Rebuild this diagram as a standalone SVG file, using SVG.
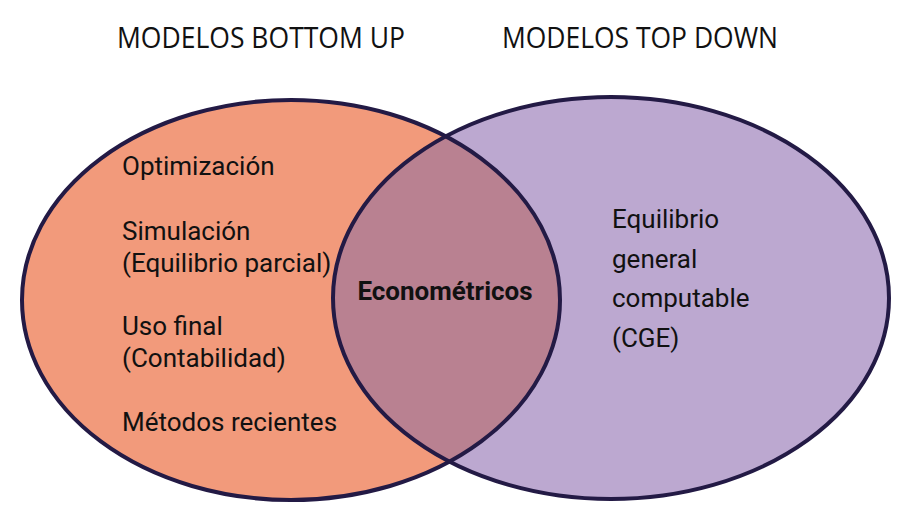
<svg xmlns="http://www.w3.org/2000/svg" width="900" height="526" viewBox="0 0 900 526">
<style>
.t{font-family:"Open Sans","Liberation Sans",sans-serif;font-size:29px;fill:#111}
.b{font-family:Roboto,"Liberation Sans",sans-serif;font-size:26px;fill:#111}
.e{stroke:#231A45;stroke-width:4}
</style>
<defs><clipPath id="cl"><ellipse cx="291" cy="300" rx="269" ry="200"/></clipPath></defs>
<rect width="900" height="526" fill="#fff"/>
<text class="t" x="117" y="48" textLength="288" lengthAdjust="spacingAndGlyphs">MODELOS BOTTOM UP</text>
<text class="t" x="502" y="48" textLength="276" lengthAdjust="spacingAndGlyphs">MODELOS TOP DOWN</text>
<g id="left"><ellipse cx="291" cy="300" rx="269" ry="200" fill="#F29A7B"/></g>
<g id="right"><ellipse cx="611" cy="298" rx="278" ry="201" fill="#BCA8D0"/></g>
<g id="overlap"><ellipse cx="611" cy="298" rx="278" ry="201" fill="#B98191" clip-path="url(#cl)"/></g>
<g id="outlines" fill="none"><ellipse class="e" cx="291" cy="300" rx="269" ry="200"/><ellipse class="e" cx="611" cy="298" rx="278" ry="201"/></g>
<g id="lefttext">
<text class="b" x="122" y="175">Optimización</text>
<text class="b" x="122" y="240">Simulación</text>
<text class="b" x="122" y="272">(Equilibrio parcial)</text>
<text class="b" x="122" y="335">Uso final</text>
<text class="b" x="122" y="367">(Contabilidad)</text>
<text class="b" x="122" y="431">Métodos recientes</text>
</g>
<g id="mid"><text class="b" x="445" y="300" text-anchor="middle" font-weight="bold" font-size="24">Econométricos</text></g>
<g id="righttext">
<text class="b" x="612" y="228">Equilibrio</text>
<text class="b" x="612" y="268">general</text>
<text class="b" x="612" y="307">computable</text>
<text class="b" x="612" y="347">(CGE)</text>
</g>
</svg>
